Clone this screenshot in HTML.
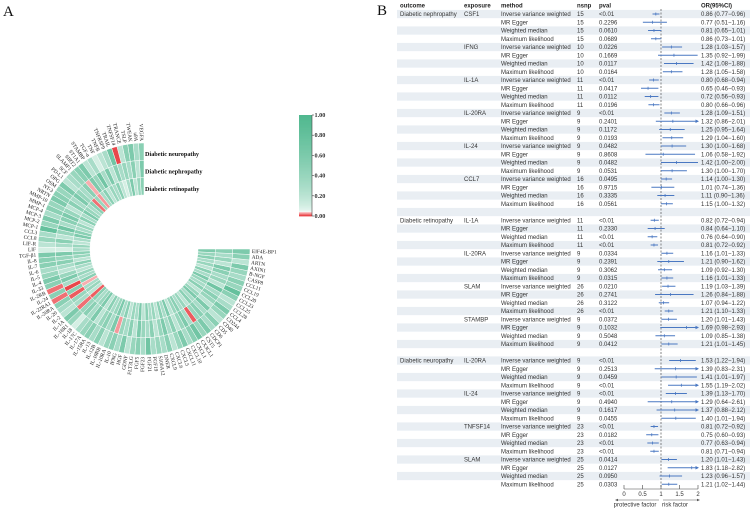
<!DOCTYPE html>
<html><head><meta charset="utf-8">
<style>
html,body{margin:0;padding:0;background:#fff;}
svg{display:block;}
.t{font-family:"Liberation Sans",sans-serif;font-size:6px;fill:#333;}
.h{font-family:"Liberation Sans",sans-serif;font-size:6px;fill:#222;font-weight:bold;}
.lab{font-family:"Liberation Serif",serif;font-size:5.3px;fill:#222;}
</style></head>
<body>
<svg id="fig" width="752" height="509" viewBox="0 0 752 509" xmlns="http://www.w3.org/2000/svg">
<text x="3" y="16" font-family="Liberation Serif,serif" font-size="15" fill="#111">A</text>
<text x="377" y="15" font-family="Liberation Serif,serif" font-size="15" fill="#111">B</text>
<g id="heat"></g>
<g id="cbar"></g>
<g id="forest"></g>
</svg>
<script>
// ---------- Panel A data ----------
const proteins = ["VEGFA","uPA","TWEAK","TSLP","TRANCE","TNFSF14","TRAIL","TNFRSF9","TNFB","TNF","TGF-α","STAMBP","ST1A1","SIRT2","SLAMF1","SCF","PD-L1","OPG","OSM","NT-3","NRTN","MMP-10","MMP-1","MCP-4","MCP-3","MCP-2","MCP-1","CCL3","CCL8","LIF-R","LIF","TGF-β1","IL-8","IL-7","IL-6","IL-5","IL-4","IL-33","IL-2RB","IL-24","IL-22RA1","IL-20RA","IL-20","IL-2","IL-1A","IL-18R1","IL-18","IL-17C","IL-17A","IL-15RA","IL-13","IL-12B","IL-10RB","IL-10RA","IL-10","IFNG","HGF","GDNF","FLT3LG","FGF5","FGF23","FGF21","FGF19","S100A12","DNER","CXCL9","CXCL6","CXCL5","CXCL11","CXCL10","CXCL1","CX3CL1","CST5","CDCP1","CD6","CD5","CD40","CD244","CCL4","CCL28","CCL25","CCL23","CCL20","CCL19","CCL11","CASP8","B-NGF","AXIN1","ARTN","ADA","EIF4E-BP1"];
const neuropathyP = [0.5,0.3,0.6,0.5,0.2,0.01,0.7,0.3,0.2,0.1,0.3,0.2,0.6,0.5,0.4,0.3,0.2,0.6,0.4,0.5,0.6,0.4,0.5,0.3,0.6,0.4,0.8,0.3,0.4,0.2,0.1,0.6,0.5,0.5,0.3,0.4,0.6,0.5,0.02,0.5,0.02,0.5,0.3,0.2,0.6,0.4,0.1,0.3,0.4,0.5,0.3,0.5,0.2,0.4,0.5,0.3,0.6,0.2,0.4,0.5,0.3,0.7,0.3,0.4,0.3,0.5,0.2,0.4,0.6,0.3,0.5,0.7,0.4,0.6,0.3,0.5,0.2,0.4,0.6,0.3,0.2,0.5,0.8,0.4,0.5,0.3,0.4,0.6,0.2,0.5,0.6];
const nephropathyP = [0.6,0.2,0.5,0.3,0.4,0.3,0.5,0.2,0.6,0.3,0.7,0.4,0.6,0.035,0.5,0.3,0.4,0.6,0.3,0.5,0.2,0.4,0.6,0.5,0.3,0.7,0.4,0.2,0.5,0.3,0.1,0.6,0.4,0.5,0.3,0.2,0.4,0.6,0.3,0.01,0.5,0.015,0.4,0.3,0.02,0.4,0.5,0.3,0.6,0.2,0.4,0.5,0.3,0.6,0.03,0.4,0.3,0.5,0.2,0.6,0.4,0.3,0.5,0.2,0.4,0.6,0.3,0.5,0.2,0.4,0.6,0.3,0.015,0.4,0.5,0.3,0.6,0.2,0.4,0.5,0.3,0.7,0.2,0.4,0.3,0.5,0.6,0.2,0.4,0.3,0.5];
const retinopathyP = [0.5,0.4,0.2,0.6,0.3,0.1,0.2,0.5,0.3,0.4,0.2,0.5,0.3,0.03,0.4,0.02,0.5,0.3,0.4,0.6,0.3,0.5,0.2,0.4,0.3,0.5,0.6,0.3,0.2,0.4,0.3,0.5,0.4,0.2,0.5,0.3,0.2,0.4,0.3,0.5,0.035,0.3,0.4,0.2,0.015,0.5,0.3,0.4,0.6,0.2,0.5,0.3,0.4,0.6,0.3,0.5,0.2,0.4,0.3,0.6,0.2,0.5,0.3,0.4,0.2,0.5,0.3,0.6,0.2,0.4,0.5,0.3,0.4,0.2,0.5,0.3,0.6,0.4,0.2,0.5,0.3,0.4,0.6,0.3,0.5,0.2,0.4,0.3,0.5,0.4,0.6];
const cbarTicks = ["0.00","0.20","0.40","0.60","0.80","1.00"];

// ---------- Panel B data ----------
const outcomes = ["Diabetic nephropathy","Diabetic retinopathy","Diabetic neuropathy"];
const exposures = ["CSF1","IFNG","IL-1A","IL-20RA","IL-24","CCL7","IL-1A","IL-20RA","SLAM","STAMBP","IL-20RA","IL-24","TNFSF14","SLAM"];
const exposureOutcome = [0,0,0,0,0,0,1,1,1,1,2,2,2,2];
const methods = ["Inverse variance weighted","MR Egger","Weighted median","Maximum likelihood"];
const nsnp = [15,15,15,15,10,10,10,10,11,11,11,11,9,9,9,9,9,9,9,9,16,16,16,16,11,11,11,11,9,9,9,9,26,26,26,26,9,9,9,9,9,9,9,9,9,9,9,9,23,23,23,23,25,25,25,25];
const pvals = ["<0.01","0.2296","0.0610","0.0689","0.0226","0.1669","0.0117","0.0164","<0.01","0.0417","0.0112","0.0196","<0.01","0.2401","0.1172","0.0193","0.0482","0.8608","0.0482","0.0531","0.0495","0.9715","0.3335","0.0561","<0.01","0.2330","<0.01","<0.01","0.0334","0.2391","0.3062","0.0315","0.0210","0.2741","0.3122","<0.01","0.0372","0.1032","0.5048","0.0412","<0.01","0.2513","0.0459","<0.01","<0.01","0.4940","0.1617","0.0455","<0.01","0.0182","<0.01","<0.01","0.0414","0.0127","0.0950","0.0303"];
const orVals = [0.86,0.77,0.81,0.86,1.28,1.35,1.42,1.28,0.80,0.65,0.72,0.80,1.28,1.32,1.25,1.29,1.30,1.06,1.42,1.30,1.14,1.01,1.11,1.15,0.82,0.84,0.76,0.81,1.16,1.21,1.09,1.16,1.19,1.26,1.07,1.21,1.20,1.69,1.09,1.21,1.53,1.39,1.41,1.55,1.39,1.29,1.37,1.40,0.81,0.75,0.77,0.81,1.20,1.83,1.23,1.21];
const ciLow = [0.77,0.51,0.65,0.73,1.03,0.92,1.08,1.05,0.68,0.46,0.56,0.66,1.09,0.86,0.95,1.04,1.00,0.58,1.00,1.00,1.00,0.74,0.90,1.00,0.72,0.64,0.64,0.72,1.01,0.90,0.92,1.01,1.03,0.84,0.94,1.10,1.01,0.98,0.85,1.01,1.22,0.83,1.01,1.19,1.13,0.64,0.88,1.01,0.72,0.60,0.63,0.71,1.01,1.18,0.96,1.02];
const ciHigh = [0.96,1.16,1.01,1.01,1.57,1.99,1.88,1.58,0.94,0.93,0.93,0.96,1.51,2.01,1.64,1.60,1.68,1.92,2.00,1.70,1.30,1.36,1.36,1.32,0.94,1.10,0.90,0.92,1.33,1.62,1.30,1.33,1.39,1.88,1.22,1.33,1.43,2.93,1.38,1.45,1.94,2.31,1.97,2.02,1.70,2.61,2.12,1.94,0.92,0.93,0.94,0.94,1.43,2.82,1.57,1.44];
const xTicks = [0,0.5,1,1.5,2];

const NS="http://www.w3.org/2000/svg";
function mk(tag, attrs, parent){const e=document.createElementNS(NS,tag);for(const k in attrs)e.setAttribute(k,attrs[k]);parent.appendChild(e);return e;}

function lerp(a,b,t){return Math.round(a+(b-a)*t);}
function heatColor(v){
  if(v<0.05){const t=v/0.05;return `rgb(${lerp(228,255,t)},${lerp(30,235,t)},${lerp(35,235,t)})`;}
  const t=Math.pow(Math.min(1,(v-0.05)/0.95),0.6);
  return `rgb(${lerp(240,80,t)},${lerp(250,184,t)},${lerp(246,143,t)})`;
}

// ---------- Panel A ----------
const heat=document.getElementById('heat');
const cx=144, cy=249, rIn=54, rOut=106;
const ringW=(rOut-rIn)/3;
const rings=[neuropathyP,nephropathyP,retinopathyP];
const ringNames=["neuropathy","nephropathy","retinopathy"];
const N=proteins.length, span=270;
function angOf(i){return 90+i*span/N;}
function pt(r,a){const rad=a*Math.PI/180;return [cx+r*Math.cos(rad), cy-r*Math.sin(rad)];}
rings.forEach((arr,ri)=>{
  const r2=rOut-ri*ringW, r1=r2-ringW;
  for(let i=0;i<N;i++){
    const a1=angOf(i), a2=angOf(i+1);
    const p1=pt(r2,a1),p2=pt(r2,a2),p3=pt(r1,a2),p4=pt(r1,a1);
    const v=arr[i]!==undefined?arr[i]:0.3;
    const d=`M${p1[0]},${p1[1]} A${r2},${r2} 0 0 0 ${p2[0]},${p2[1]} L${p3[0]},${p3[1]} A${r1},${r1} 0 0 1 ${p4[0]},${p4[1]} Z`;
    const c=mk('path',{d:d,fill:heatColor(v),stroke:'#fff','stroke-width':0.5},heat);
    
    
  }
});
for(let i=0;i<N;i++){
  const a=angOf(i+0.5);
  const p=pt(rOut+2,a);
  let rot, anchor;
  if(a<=270){rot=180-a;anchor='end';}else{rot=-a;anchor='start';}
  const t=mk('text',{x:p[0],y:p[1],class:'lab','text-anchor':anchor,'dominant-baseline':'middle',transform:`rotate(${rot} ${p[0]} ${p[1]})`},heat);
  t.textContent=proteins[i];
  
  
}
[["Diabetic neuropathy",154],["Diabetic nephropathy",171.5],["Diabetic retinopathy",189]].forEach(([s,y])=>{
  const t=mk('text',{x:145,y:y+2,'font-family':'Liberation Serif,serif','font-size':6.2,'font-weight':'bold',fill:'#111'},heat);
  t.textContent=s;
  
  
});

// ---------- colorbar ----------
const cbar=document.getElementById('cbar');
const cbTop=115, cbBot=216, cbX=299, cbW=13;
for(let k=0;k<100;k++){
  const v=1-k/100;
  const r=mk('rect',{x:cbX,y:cbTop+k*(cbBot-cbTop)/100,width:cbW,height:(cbBot-cbTop)/100+0.4,fill:heatColor(v)},cbar);
  
  
}
mk('line',{x1:cbX+cbW,y1:cbTop,x2:cbX+cbW,y2:cbBot,stroke:'#444','stroke-width':0.6},cbar);
cbarTicks.forEach(s=>{
  const v=parseFloat(s);
  const y=cbBot-v*(cbBot-cbTop);
  mk('line',{x1:cbX+cbW,y1:y,x2:cbX+cbW+2,y2:y,stroke:'#444','stroke-width':0.6},cbar);
  const t=mk('text',{x:cbX+cbW+2.5,y:y+2,'font-family':'Liberation Serif,serif','font-size':6.2,'font-weight':'bold',fill:'#333'},cbar);
  t.textContent=s;
  
  
});

// ---------- Panel B ----------
const fg=document.getElementById('forest');
const y0=14, dy=8.25;
function fx(v){return 624+37*v;}
function rowIdx(k){const g=Math.floor(k/4);const o=exposureOutcome[g];return k+(o>=1?1:0)+(o>=2?1:0);}
const totalRows=58;
for(let r=0;r<totalRows;r+=2){
  const s=mk('rect',{x:397,y:y0+r*dy-4.1,width:353,height:dy,fill:'#e9eef3'},fg);
  
  
}
const hdr=[["outcome",400],["exposure",464],["method",501],["nsnp",577],["pval",599],["OR(95%CI)",701]];
hdr.forEach(([s,x])=>{const t=mk('text',{x:x,y:7.5,class:'h'},fg);t.textContent=s;
  
  });
mk('line',{x1:fx(1),y1:9,x2:fx(1),y2:489,stroke:'#555','stroke-width':0.7,'stroke-dasharray':'2,1.5'},fg);
for(let k=0;k<orVals.length;k++){
  const r=rowIdx(k), y=y0+r*dy, by=y+2.1;
  const g=Math.floor(k/4), m=k%4;
  if(m===0){
    if(g===0||exposureOutcome[g]!==exposureOutcome[g-1]){
      const t=mk('text',{x:400,y:by,class:'t'},fg);t.textContent=outcomes[exposureOutcome[g]];
      
      
    }
    const t=mk('text',{x:464,y:by,class:'t'},fg);t.textContent=exposures[g];
    
    
  }
  let t=mk('text',{x:501,y:by,class:'t'},fg);t.textContent=methods[m];
  
  
  t=mk('text',{x:577,y:by,class:'t'},fg);t.textContent=nsnp[k];
  
  
  t=mk('text',{x:599,y:by,class:'t'},fg);t.textContent=pvals[k];
  
  
  t=mk('text',{x:701,y:by,class:'t'},fg);
  t.textContent=`${orVals[k].toFixed(2)} (${ciLow[k].toFixed(2)}\u2212${ciHigh[k].toFixed(2)})`;
  
  
  const hi=Math.min(ciHigh[k],2);
  const ln=mk('line',{x1:fx(ciLow[k]),y1:y,x2:fx(hi),y2:y,stroke:'#4a78c2','stroke-width':1},fg);
  
  
  if(ciHigh[k]>2){
    const ax=fx(2);
    const ah=mk('path',{d:`M${ax+1},${y} L${ax-2.5},${y-1.8} L${ax-2.5},${y+1.8} Z`,fill:'#4a78c2'},fg);
    
    
  }
  const pm=mk('line',{x1:fx(orVals[k]),y1:y-1.5,x2:fx(orVals[k]),y2:y+1.5,stroke:'#4a78c2','stroke-width':0.8},fg);
  
  
}
mk('line',{x1:fx(xTicks[0]),y1:489,x2:fx(xTicks[xTicks.length-1]),y2:489,stroke:'#444','stroke-width':0.6},fg);
xTicks.forEach(v=>{
  mk('line',{x1:fx(v),y1:485,x2:fx(v),y2:489,stroke:'#444','stroke-width':0.6},fg);
  const t=mk('text',{x:fx(v),y:496,class:'t','text-anchor':'middle'},fg);t.textContent=String(v);
  
  
});
mk('line',{x1:659,y1:500,x2:617,y2:500,stroke:'#555','stroke-width':0.5},fg);
mk('path',{d:'M615,500 L618,498.8 L618,501.2 Z',fill:'#555'},fg);
mk('line',{x1:663,y1:500,x2:698,y2:500,stroke:'#555','stroke-width':0.5},fg);
mk('path',{d:'M700,500 L697,498.8 L697,501.2 Z',fill:'#555'},fg);
let tt=mk('text',{x:635,y:506.5,class:'t','text-anchor':'middle'},fg);tt.textContent='protective factor';


tt=mk('text',{x:675,y:506.5,class:'t','text-anchor':'middle'},fg);tt.textContent='risk factor';


</script>
</body></html>
